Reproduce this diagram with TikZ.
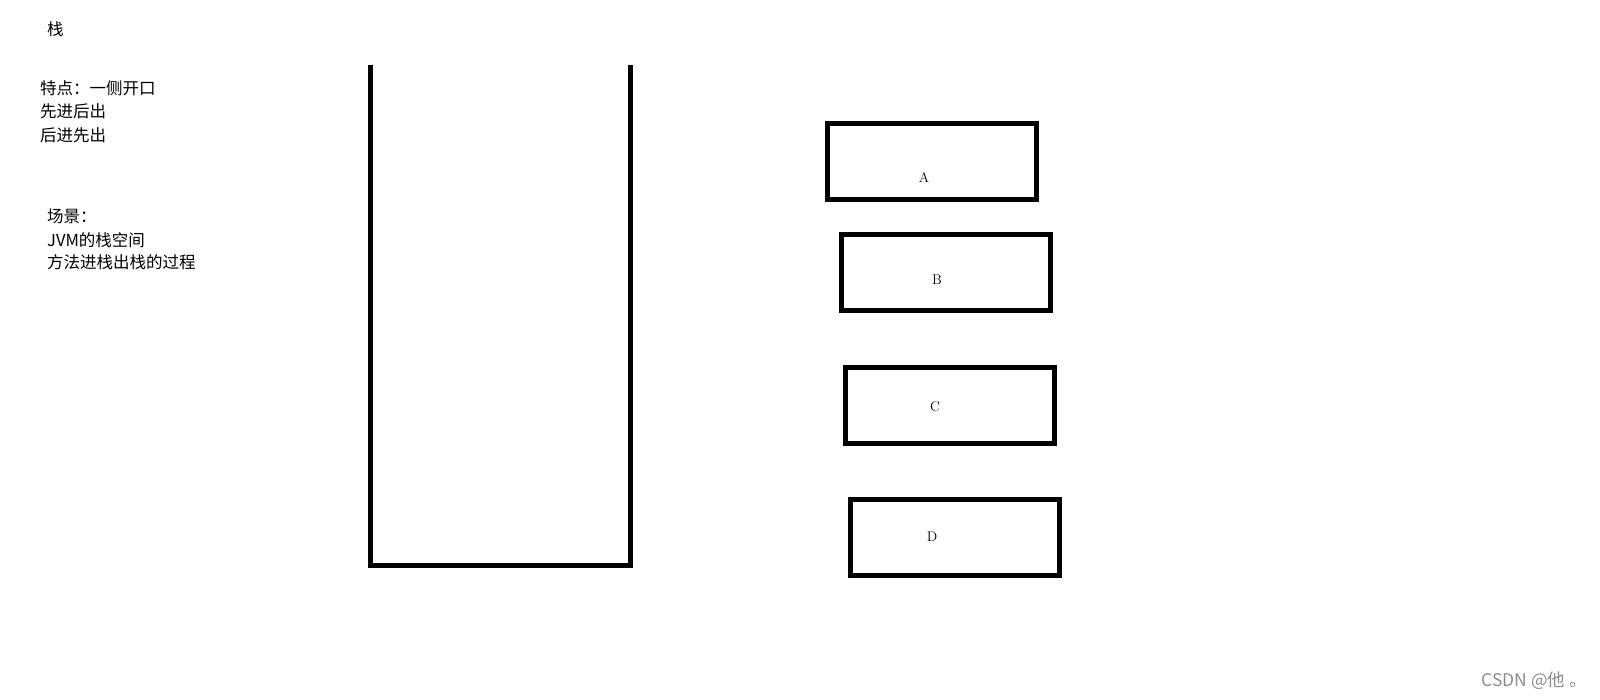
\documentclass[tikz,border=0pt]{standalone}
\usepackage{fontspec}
\newfontfamily\cjk{Noto Sans CJK SC}
\usepackage{tikz}
\usetikzlibrary{positioning}

\begin{document}
\begin{tikzpicture}[x=1pt,y=-1pt,
  note/.style={anchor=west,inner sep=0,font=\cjk\fontsize{16.5}{18}\selectfont},
  frame/.style={rectangle,draw,line width=5pt,minimum width=209pt,
    minimum height=76pt,inner sep=0},
  letter/.style={inner sep=0,font=\fontsize{14}{16}\selectfont}]
  \useasboundingbox (0,0) rectangle (1600,700);
  % texts on the left
  \node[note] (title) at (47,29) {栈};
  \node[note] (feat) at (40,88) {特点：一侧开口};
  \node[note] (fifo) at (40,111) {先进后出};
  \node[note] (lifo) at (40,135) {后进先出};
  \node[note] (scene) at (47,216) {场景：};
  \node[note] (jvm) at (47,240) {JVM的栈空间};
  \node[note] (call) at (47,262) {方法进栈出栈的过程};
  % the stack
  \coordinate (topl) at (370.5,65);
  \coordinate (topr) at (630.5,65);
  \draw[line width=4.5pt] (topl) |- (630.5,565.5) -- (topr);
  % the frames
  \node[frame] (boxa) at (931.5,162) {};
  \node[frame] (boxb) at (946,272.5) {};
  \node[frame] (boxc) at (950,405) {};
  \node[frame] (boxd) at (954.5,537.5) {};
  \node[letter] (la) at (924,178) {A};
  \node[letter] (lb) at (937,280) {B};
  \node[letter] (lc) at (935,407) {C};
  \node[letter] (ld) at (932,537) {D};
  \node[anchor=east,inner sep=0,text=black!45,font=\cjk\fontsize{17.5}{20}\selectfont]
    (mark) at (1587,681) {CSDN @他 。};
\end{tikzpicture}
\end{document}
